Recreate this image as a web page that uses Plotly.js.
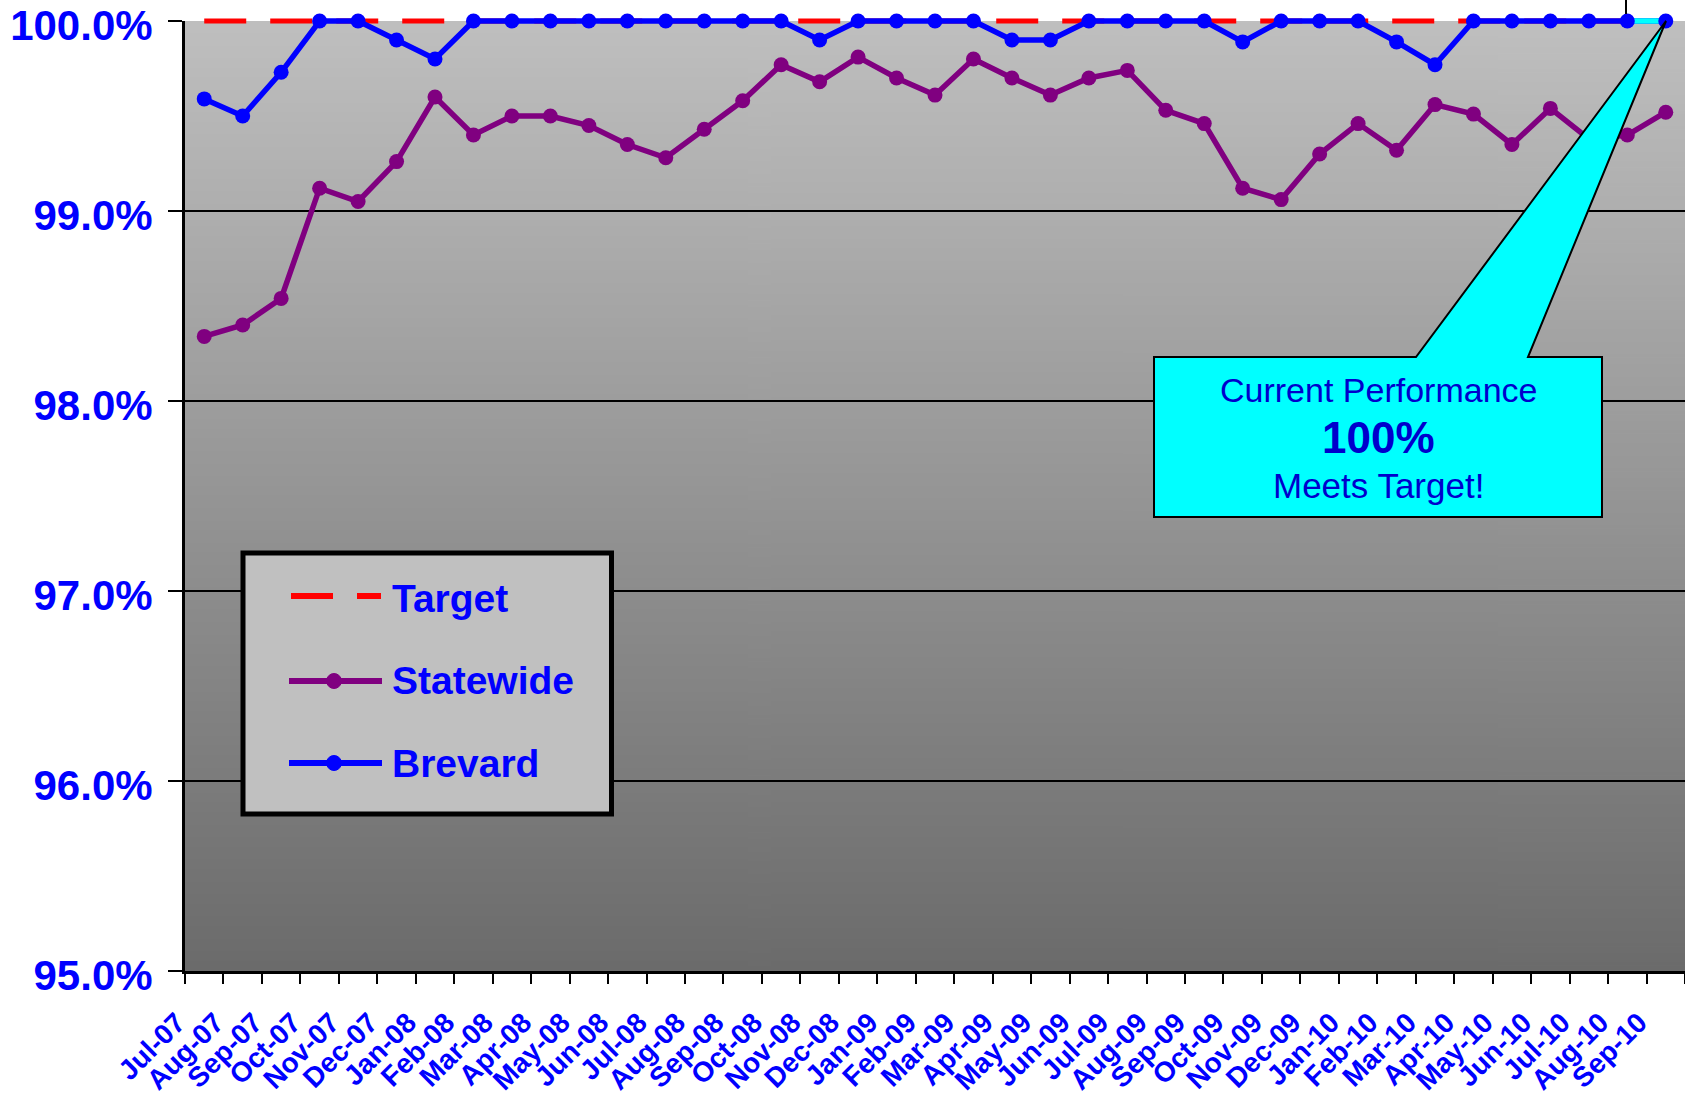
<!DOCTYPE html>
<html>
<head>
<meta charset="utf-8">
<script src="https://cdn.plot.ly/plotly-3.0.1.min.js"></script>
<style>
html,body{margin:0;padding:0;background:#ffffff;}
#chart{width:1685px;height:1103px;}
</style>
</head>
<body>
<div id="chart"></div>
<script>
// ---------- data ----------
const months = ['Jul-07','Aug-07','Sep-07','Oct-07','Nov-07','Dec-07',
  'Jan-08','Feb-08','Mar-08','Apr-08','May-08','Jun-08','Jul-08','Aug-08','Sep-08','Oct-08','Nov-08','Dec-08',
  'Jan-09','Feb-09','Mar-09','Apr-09','May-09','Jun-09','Jul-09','Aug-09','Sep-09','Oct-09','Nov-09','Dec-09',
  'Jan-10','Feb-10','Mar-10','Apr-10','May-10','Jun-10','Jul-10','Aug-10','Sep-10'];

const targetVals = [1.000,1.000,1.000,1.000,1.000,1.000,
  1.000,1.000,1.000,1.000,1.000,1.000,1.000,1.000,1.000,1.000,1.000,1.000,
  1.000,1.000,1.000,1.000,1.000,1.000,1.000,1.000,1.000,1.000,1.000,1.000,
  1.000,1.000,1.000,1.000,1.000,1.000,1.000,1.000,1.000];

const statewideVals = [0.9834,0.9840,0.9854,0.9912,0.9905,0.9926,
  0.9960,0.9940,0.9950,0.9950,0.9945,0.9935,0.9928,0.9943,0.9958,0.9977,0.9968,0.9981,
  0.9970,0.9961,0.9980,0.9970,0.9961,0.9970,0.9974,0.9953,0.9946,0.9912,0.9906,0.9930,
  0.9946,0.9932,0.9956,0.9951,0.9935,0.9954,0.9938,0.9940,0.9952];

const brevardVals = [0.9959,0.9950,0.9973,1.000,1.000,0.9990,
  0.9980,1.000,1.000,1.000,1.000,1.000,1.000,1.000,1.000,1.000,0.9990,1.000,
  1.000,1.000,1.000,0.9990,0.9990,1.000,1.000,1.000,1.000,0.9989,1.000,1.000,
  1.000,0.9989,0.9977,1.000,1.000,1.000,1.000,1.000,1.000];

const yTickVals = [0.95,0.96,0.97,0.98,0.99,1.00];
const seriesNames = ['Target','Statewide','Brevard'];
const calloutLines = ['Current Performance','100%','Meets Target!'];

// ---------- styling ----------
const FONT = "'Liberation Sans', Arial, Helvetica, sans-serif";
const BLUE = '#0000FF';
const PURPLE = '#800080';
const RED = '#FF0000';
const CYAN = '#00FFFF';

const ML = 185, MT = 21, PW = 1500, PH = 950;
const px = v => (v - ML) / PW;
const py = v => (MT + PH - v) / PH;

function gradientURL(){
  const c = document.createElement('canvas');
  c.width = 4; c.height = 600;
  const g = c.getContext('2d');
  const gr = g.createLinearGradient(0,0,0,600);
  gr.addColorStop(0,'#BFBFBF');
  gr.addColorStop(1,'#6B6B6B');
  g.fillStyle = gr; g.fillRect(0,0,4,600);
  return c.toDataURL('image/png');
}

const LW = 5.5, MS = 15;
const traces = [
  {x: months, y: targetVals, name: seriesNames[0], type:'scatter', mode:'lines',
   line:{color:RED, width:5, dash:'42px,24px'}, cliponaxis:false, showlegend:false, hoverinfo:'skip'},
  {x: months, y: statewideVals, name: seriesNames[1], type:'scatter', mode:'lines+markers',
   line:{color:PURPLE, width:LW}, marker:{color:PURPLE, size:MS}, cliponaxis:false, showlegend:false},
  {x: months, y: brevardVals, name: seriesNames[2], type:'scatter', mode:'lines',
   line:{color:BLUE, width:LW}, cliponaxis:false, showlegend:false},
  {x: months.slice(-2), y: brevardVals.slice(-2), name: seriesNames[2], type:'scatter', mode:'lines',
   line:{color:CYAN, width:LW}, cliponaxis:false, showlegend:false, hoverinfo:'skip'},
  {x: months, y: brevardVals, name: seriesNames[2], type:'scatter', mode:'markers',
   marker:{color:BLUE, size:MS}, cliponaxis:false, showlegend:false}
];

const shapes = [
  // callout box with pointer to the latest Brevard point
  {type:'path', xref:'paper', yref:'paper', layer:'above',
   path:`M ${px(1154)},${py(357)} L ${px(1416)},${py(357)} L ${px(1666)},${py(21)} L ${px(1528)},${py(357)} L ${px(1602)},${py(357)} L ${px(1602)},${py(517)} L ${px(1154)},${py(517)} Z`,
   fillcolor:CYAN, line:{color:'#000000', width:2}},
  // small black stub at the top right
  {type:'line', xref:'paper', yref:'paper', x0:px(1626), x1:px(1626), y0:py(0), y1:py(14),
   line:{color:'#000000', width:2}},
  // legend box
  {type:'rect', xref:'paper', yref:'paper', x0:px(243), x1:px(611.5), y0:py(814), y1:py(553),
   fillcolor:'#C0C0C0', line:{color:'#000000', width:5}},
  // legend samples
  {type:'line', xref:'paper', yref:'paper', x0:px(291), x1:px(333), y0:py(596), y1:py(596),
   line:{color:RED, width:6}},
  {type:'line', xref:'paper', yref:'paper', x0:px(357), x1:px(381), y0:py(596), y1:py(596),
   line:{color:RED, width:6}},
  {type:'line', xref:'paper', yref:'paper', x0:px(289), x1:px(382), y0:py(681), y1:py(681),
   line:{color:PURPLE, width:6}},
  {type:'circle', xref:'paper', yref:'paper', xsizemode:'pixel', ysizemode:'pixel',
   xanchor:px(334), yanchor:py(681), x0:-7.5, x1:7.5, y0:-7.5, y1:7.5,
   fillcolor:PURPLE, line:{color:PURPLE, width:1}},
  {type:'line', xref:'paper', yref:'paper', x0:px(289), x1:px(382), y0:py(763), y1:py(763),
   line:{color:BLUE, width:6}},
  {type:'circle', xref:'paper', yref:'paper', xsizemode:'pixel', ysizemode:'pixel',
   xanchor:px(334), yanchor:py(763), x0:-7.5, x1:7.5, y0:-7.5, y1:7.5,
   fillcolor:BLUE, line:{color:BLUE, width:1}}
];

const legendFont = {family:FONT, size:39, color:BLUE, weight:'bold'};
const calloutColor = '#0000CC';
const annotations = [
  {xref:'paper', yref:'paper', x:px(390), y:py(598), xanchor:'left', yanchor:'middle',
   text:seriesNames[0], showarrow:false, font:legendFont},
  {xref:'paper', yref:'paper', x:px(390), y:py(681), xanchor:'left', yanchor:'middle',
   text:seriesNames[1], showarrow:false, font:legendFont},
  {xref:'paper', yref:'paper', x:px(390), y:py(763), xanchor:'left', yanchor:'middle',
   text:seriesNames[2], showarrow:false, font:legendFont},
  {xref:'paper', yref:'paper', x:px(1378), y:py(390), xanchor:'center', yanchor:'middle',
   text:calloutLines[0], showarrow:false, font:{family:FONT, size:34, color:calloutColor}},
  {xref:'paper', yref:'paper', x:px(1378), y:py(437.5), xanchor:'center', yanchor:'middle',
   text:calloutLines[1], showarrow:false, font:{family:FONT, size:44, color:calloutColor, weight:'bold'}},
  {xref:'paper', yref:'paper', x:px(1378), y:py(485), xanchor:'center', yanchor:'middle',
   text:calloutLines[2], showarrow:false, font:{family:FONT, size:35, color:calloutColor}}
];

const layout = {
  width:1685, height:1103,
  margin:{l:ML, r:0, t:MT, b:1103-MT-PH, pad:0},
  paper_bgcolor:'#FFFFFF',
  plot_bgcolor:'rgba(0,0,0,0)',
  showlegend:false,
  hovermode:false,
  font:{family:FONT, color:BLUE},
  images:[{source:gradientURL(), xref:'paper', yref:'paper', x:0, y:1, sizex:1, sizey:1,
           xanchor:'left', yanchor:'top', sizing:'stretch', layer:'below'}],
  xaxis:{type:'category', categoryorder:'array', categoryarray:months,
    range:[-0.5, months.length-0.5], tickson:'boundaries',
    ticks:'outside', ticklen:10, tickwidth:2, tickcolor:'#000000',
    showline:true, linewidth:3, linecolor:'#000000', showgrid:false, zeroline:false,
    tickangle:-45, tickfont:{family:FONT, size:28, color:BLUE, weight:'bold'},
    ticklabelshift:-27, ticklabelstandoff:21, ticklabeloverflow:'allow', automargin:false, fixedrange:true},
  yaxis:{range:[0.95,1.0], tickmode:'array', tickvals:yTickVals, tickformat:'.1%',
    ticks:'outside', ticklen:14, tickwidth:2, tickcolor:'#000000',
    showline:true, linewidth:3, linecolor:'#000000',
    showgrid:true, gridcolor:'#000000', gridwidth:1.5, zeroline:false,
    tickfont:{family:FONT, size:42, color:BLUE, weight:'bold'},
    ticklabelstandoff:7, ticklabelshift:4, ticklabeloverflow:'allow',
    automargin:false, fixedrange:true},
  shapes:shapes,
  annotations:annotations
};

Plotly.newPlot('chart', traces, layout, {displayModeBar:false, staticPlot:true}).then(gd => {
  // let the lines at 100% show their full width above the plot edge, as in the original
  gd.querySelectorAll('.scatterlayer [clip-path], .scatterlayer').forEach(e => e.removeAttribute('clip-path'));
});
</script>
</body>
</html>
